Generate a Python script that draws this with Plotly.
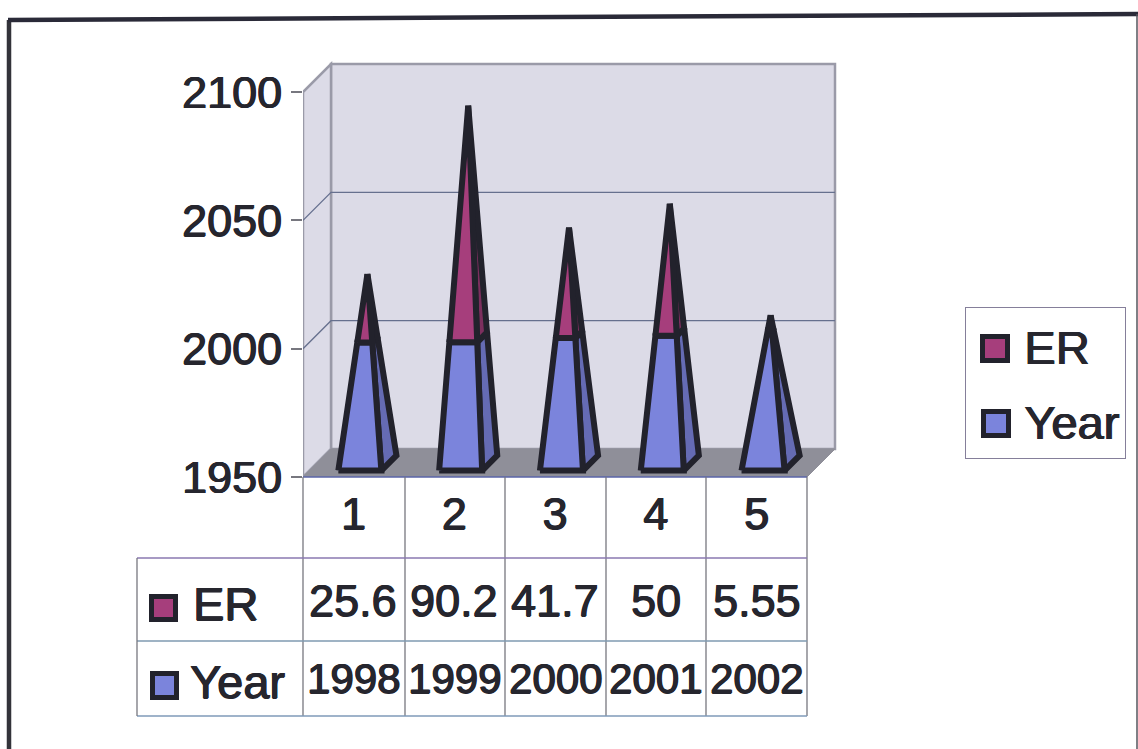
import plotly.graph_objects as go

categories = [1, 2, 3, 4, 5]
er_values = [25.6, 90.2, 41.7, 50, 5.55]
er_labels = ["25.6", "90.2", "41.7", "50", "5.55"]
year_values = [1998, 1999, 2000, 2001, 2002]
y_ticks = [1950, 2000, 2050, 2100]

W, H = 1138, 749
L, R, T, B = 303, 840, 60, 477          # plot rectangle in window pixels
CAT_PX = (807 - 303) / 5
UNIT_PX = (477 - 92) / 150
DEPTH_PX = 28
DX = DEPTH_PX / CAT_PX
DY = DEPTH_PX / UNIT_PX
INK = "#22222c"
TEXT = "#26262e"
FONT = "Liberation Sans, Arial, sans-serif"
SHADOW = "0.8px 0 0 #26262e, -0.5px 0 0 #26262e, 0 0.5px 0 #26262e"
HW, DC, DD = 21.5 / CAT_PX, 0.5, 0.27


def px(x):
    return (x - L) / (R - L)


def py(y):
    return (B - y) / (B - T)


def proj(x, v, d):
    return x + DX * d, v + DY * d


def corners(c, v, total):
    s = (total - v) / (total - 1950)
    fl = proj(c - HW * s, v, DC - DD * s)
    fr = proj(c + HW * s, v, DC - DD * s)
    br = proj(c + HW * s, v, DC + DD * s)
    return fl, fr, br


def poly(*points):
    return list(points) + [points[0]]


faces = {"yf": ([], []), "ys": ([], []), "ef": ([], []), "es": ([], [])}


def add(key, pts):
    for a, b in pts:
        faces[key][0].append(a)
        faces[key][1].append(b)
    faces[key][0].append(None)
    faces[key][1].append(None)


for c, yr, er in zip(categories, year_values, er_values):
    total = yr + er
    f0, r0, b0 = corners(c, 1950, total)
    f1, r1, b1 = corners(c, yr, total)
    f2, r2, b2 = corners(c, total, total)
    add("ys", poly(r0, b0, b1, r1))
    add("yf", poly(f0, r0, r1, f1))
    add("es", poly(r1, b1, b2, r2))
    add("ef", poly(f1, r1, r2, f2))

fig = go.Figure()
YEAR_F, YEAR_S, ER_F, ER_S = "#7b84dc", "#656bb4", "#a63e7c", "#7c2f5e"
for key, col in [("ys", YEAR_S), ("yf", YEAR_F), ("es", ER_S), ("ef", ER_F)]:
    fig.add_trace(go.Scatter(x=faces[key][0], y=faces[key][1], mode="lines", fill="toself",
                             fillcolor=col, line=dict(color=INK, width=6), showlegend=False,
                             hoverinfo="skip"))
for name, col in [("ER", ER_F), ("Year", YEAR_F)]:
    fig.add_trace(go.Scatter(x=[None], y=[None], mode="markers", name=name,
                             legendgroup=name,
                             marker=dict(symbol="square", size=12, color=col, line=dict(width=0))))

shapes = []


def path(pts):
    return "M" + "L".join(f"{a},{b}" for a, b in pts) + "Z"


def data_shape(pts, fill, line, width):
    shapes.append(dict(type="path", path=path(pts), xref="x", yref="y", fillcolor=fill,
                       line=dict(color=line, width=width), layer="below"))


x0, x1 = 0.5, 5.5
yb, yt = y_ticks[0], y_ticks[-1]
WALL, EDGE = "#dcdbe7", "#9a9aa8"
data_shape([proj(x0, yb, 1), proj(x1, yb, 1), proj(x1, yt, 1), proj(x0, yt, 1)], WALL, EDGE, 2.5)
data_shape([proj(x0, yb, 0), proj(x0, yb, 1), proj(x0, yt, 1), proj(x0, yt, 0)], WALL, EDGE, 2.5)
data_shape([proj(x0, yb, 0), proj(x1, yb, 0), proj(x1, yb, 1), proj(x0, yb, 1)], "#8f8f99", "#8f8f99", 1)
for v in y_ticks[1:-1]:
    p = [proj(x0, v, 0), proj(x0, v, 1), proj(x1, v, 1)]
    shapes.append(dict(type="path", path="M" + "L".join(f"{a},{b}" for a, b in p), xref="x", yref="y",
                       line=dict(color="#66708e", width=1.3), layer="below"))


def paper_line(xa, ya, xb, yb_, color, width):
    shapes.append(dict(type="line", xref="paper", yref="paper", x0=px(xa), y0=py(ya), x1=px(xb), y1=py(yb_),
                       line=dict(color=color, width=width), layer="above"))


# front floor edge and table rules
paper_line(303, 477, 807, 477, "#5a64a8", 1.5)
for xv in [303, 405, 505, 606, 706, 807]:
    paper_line(xv, 477, xv, 716, "#77777f", 1.3)
paper_line(137, 558, 807, 558, "#8a78b0", 1.3)
paper_line(137, 641, 807, 641, "#7f9ab0", 1.3)
paper_line(137, 716, 807, 716, "#7f9ab8", 1.3)
paper_line(137, 558, 137, 716, "#77777f", 1.3)
# page frame
paper_line(9, 20, 9, 749, "#33333a", 4.5)
paper_line(8, 20, 1138, 14, "#2a2a38", 4.5)
paper_line(1137, 14, 1137, 749, "#55555c", 1.5)


def key(xa, ya, xb, yb_, col):
    shapes.append(dict(type="rect", xref="paper", yref="paper", x0=px(xa + 2.5), y0=py(ya + 2.5),
                       x1=px(xb - 2.5), y1=py(yb_ - 2.5), fillcolor=col,
                       line=dict(color=INK, width=5), layer="above"))


key(149, 594, 178, 622, ER_F)
key(150, 671, 179, 700, YEAR_F)
key(980, 334, 1010, 363, ER_F)
key(981, 409, 1011, 438, YEAR_F)

annotations = []


def text(x, y, s, xref="paper", anchor="center", size=45):
    annotations.append(dict(x=x, y=py(y), xref=xref, yref="paper", text=s, showarrow=False,
                            xanchor=anchor, yanchor="middle",
                            font=dict(size=size, color=TEXT, family=FONT, shadow=SHADOW)))


text(px(191), 603, "ER", anchor="left", size=47)
text(px(188), 681, "Year", anchor="left", size=47)
for c, er, yr in zip(categories, er_labels, year_values):
    text(c, 600, er, xref="x")
    text(c, 678, str(yr), xref="x", size=42)

tf = dict(size=45, color=TEXT, family=FONT, shadow=SHADOW)
fig.update_layout(
    width=W, height=H, autosize=False,
    margin=dict(l=L, r=W - R, t=T, b=H - B, pad=0),
    paper_bgcolor="white", plot_bgcolor="rgba(0,0,0,0)",
    shapes=shapes, annotations=annotations,
    font=dict(family=FONT, color=TEXT),
    hovermode=False,
    legend=dict(x=px(965), y=py(307), xanchor="left", yanchor="top", bgcolor="rgba(0,0,0,0)",
                bordercolor="#857f9a", borderwidth=1.3,
                font=dict(size=47, color=TEXT, family=FONT, shadow=SHADOW),
                tracegroupgap=11, itemwidth=48, traceorder="grouped",
                entrywidth=105, entrywidthmode="pixels"),
    xaxis=dict(range=[0.5, 0.5 + (R - L) / CAT_PX], tickmode="array", tickvals=categories,
               ticktext=[str(c) for c in categories], ticks="", showgrid=False, zeroline=False,
               showline=False, tickfont=tf, ticklabelstandoff=6),
    yaxis=dict(range=[1950, 1950 + (B - T) / UNIT_PX], tickmode="array", tickvals=y_ticks,
               ticks="outside", ticklen=11, tickwidth=1.5, tickcolor="#77777f", showgrid=False,
               zeroline=False, showline=False, tickfont=tf, ticklabelstandoff=0),
)
fig.write_html("out.html", config=dict(displayModeBar=False),
               post_script="document.body.style.margin='0';document.documentElement.style.overflow='hidden';")
